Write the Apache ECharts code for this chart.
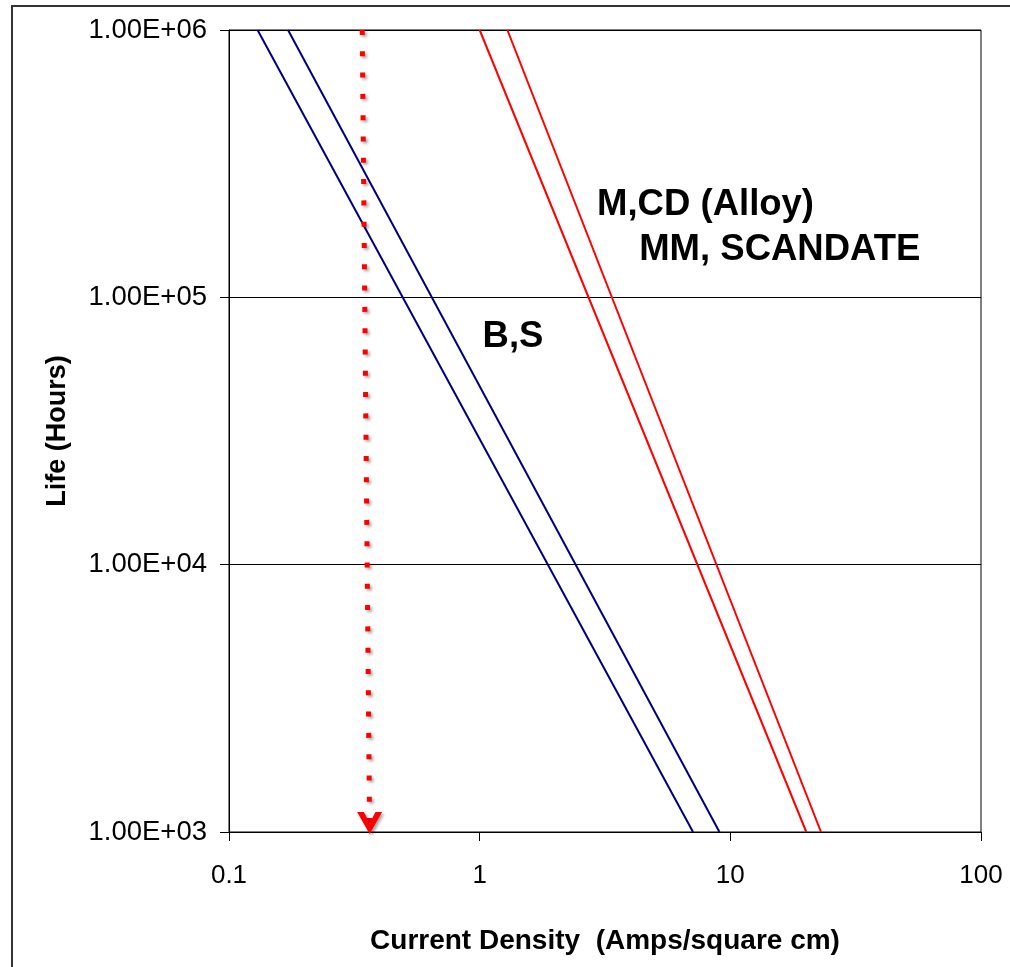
<!DOCTYPE html>
<html><head><meta charset="utf-8">
<script src="https://cdn.jsdelivr.net/npm/echarts@6/dist/echarts.min.js"></script>
<style>html,body{margin:0;padding:0;background:#fff;overflow:hidden}#c{width:1010px;height:967px}</style>
</head><body><div id="c"></div>
<script>
// ---- data ----
const xTicks = [0.1, 1, 10, 100];
const xTickLabels = ['0.1', '1', '10', '100'];
const yTicks = [1e3, 1e4, 1e5, 1e6];
const yTickLabels = ['1.00E+03', '1.00E+04', '1.00E+05', '1.00E+06'];
const xAxisTitle = 'Current Density  (Amps/square cm)';
const yAxisTitle = 'Life (Hours)';
// each line: [current density, life hours] end points
const bsLower = [[0.130, 1e6], [7.10, 1e3]];
const bsUpper = [[0.172, 1e6], [9.05, 1e3]];
const alloyLower = [[1.00, 1e6], [20.1, 1e3]];
const alloyUpper = [[1.29, 1e6], [23.0, 1e3]];
const arrowPath = [[0.340, 1e6], [0.364, 1e3]];
const annotationTexts = ['M,CD (Alloy)', 'MM, SCANDATE', 'B,S'];
const annotationX = [2.94, 4.33, 1.027];
const annotationY = [2.22e5, 1.50e5, 7.08e4];

const FONT = '"Liberation Sans", Arial, sans-serif';
const chart = echarts.init(document.getElementById('c'), null, {renderer: 'canvas'});

function lookup(ticks, labels, v) {
  for (let i = 0; i < ticks.length; i++) {
    if (Math.abs(Math.log10(ticks[i]) - Math.log10(v)) < 1e-6) return labels[i];
  }
  return '';
}

const lineSeries = (name, data, color) => ({
  name, type: 'line', data, showSymbol: false, symbol: 'none',
  lineStyle: {color, width: 2}, animation: false, z: 3
});

chart.setOption({
  animation: false,
  backgroundColor: '#fff',
  grid: {left: 229, right: 29, top: 30, bottom: 135, show: true, borderColor: '#000', borderWidth: 1, backgroundColor: 'transparent'},
  xAxis: {
    type: 'log', logBase: 10, min: 0.1, max: 100,
    axisLine: {show: true, lineStyle: {color: '#000', width: 1}},
    axisTick: {show: true, length: 9, inside: false, lineStyle: {color: '#000'}},
    axisLabel: {margin: 31, fontSize: 26, fontFamily: FONT, color: '#000',
      formatter: v => lookup(xTicks, xTickLabels, v)},
    splitLine: {show: false},
    minorTick: {show: false},
    name: xAxisTitle, nameLocation: 'middle', nameGap: 95,
    nameTextStyle: {fontSize: 28, fontWeight: 'bold', fontFamily: FONT, color: '#000'}
  },
  yAxis: {
    type: 'log', logBase: 10, min: 1e3, max: 1e6,
    axisLine: {show: true, lineStyle: {color: '#000', width: 1}},
    axisTick: {show: true, length: 9, inside: false, lineStyle: {color: '#000'}},
    axisLabel: {margin: 22, fontSize: 27.5, fontFamily: FONT, color: '#000',
      formatter: v => lookup(yTicks, yTickLabels, v)},
    splitLine: {show: true, lineStyle: {color: '#000', width: 1}},
    name: yAxisTitle, nameLocation: 'middle', nameGap: 158, nameRotate: 90,
    nameTextStyle: {fontSize: 27, fontWeight: 'bold', fontFamily: FONT, color: '#000'}
  },
  series: [
    lineSeries('B,S lower', bsLower, '#000080'),
    lineSeries('B,S upper', bsUpper, '#000080'),
    lineSeries('M,CD (Alloy)', alloyLower, '#ff0000'),
    lineSeries('MM, SCANDATE', alloyUpper, '#ff0000'),
    {
      name: 'arrow', type: 'line', clip: false, animation: false, z: 4,
      showSymbol: true,
      data: [
        {value: arrowPath[0], symbol: 'none'},
        {value: arrowPath[1], symbol: 'path://M0,0 L6.5,0 L12,11 L17.5,0 L24,0 L12,21 Z',
         symbolSize: [25, 22], symbolOffset: [0, -9], symbolKeepAspect: false}
      ],
      itemStyle: {color: '#ff0000', shadowBlur: 3, shadowColor: 'rgba(0,0,0,0.35)', shadowOffsetX: 2, shadowOffsetY: 2},
      lineStyle: {color: '#ff0000', width: 5, type: [5, 16.3], cap: 'butt',
        shadowBlur: 3, shadowColor: 'rgba(0,0,0,0.35)', shadowOffsetX: 2, shadowOffsetY: 2}
    }
  ]
});

const graphics = [{
  type: 'rect', silent: true, z: 10,
  shape: {x: 12, y: 6, width: 1200, height: 1200},
  style: {fill: 'none', stroke: '#333', lineWidth: 2}
}];
annotationTexts.forEach((t, i) => {
  const p = chart.convertToPixel({gridIndex: 0}, [annotationX[i], annotationY[i]]);
  graphics.push({
    type: 'text', x: p[0], y: p[1], z: 10, silent: true,
    style: {text: t, fill: '#000', font: 'bold 36.5px ' + FONT, align: 'left', verticalAlign: 'middle'}
  });
});
chart.setOption({graphic: graphics});
</script>
</body></html>
